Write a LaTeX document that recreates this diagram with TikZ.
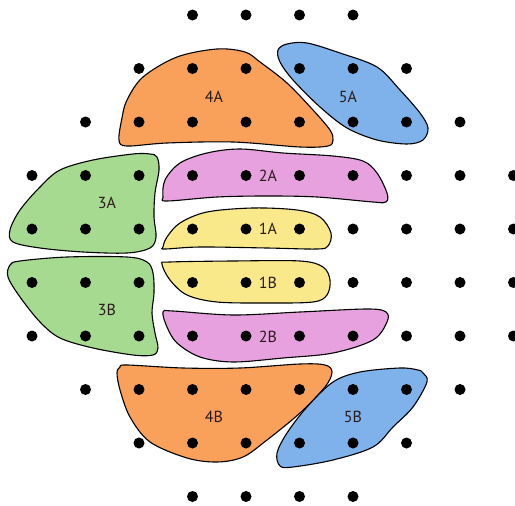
\documentclass[tikz,border=0pt]{standalone}
\usepackage{fontspec}
\setmainfont{PT Sans}
\definecolor{orangeA}{HTML}{F9A05A}
\definecolor{blueA}{HTML}{7FB2EA}
\definecolor{greenA}{HTML}{A6DA90}
\definecolor{pinkA}{HTML}{E7A1DE}
\definecolor{yellowA}{HTML}{F9E98A}
\definecolor{labtext}{HTML}{2A1A1A}
\begin{document}
\begin{tikzpicture}[x=1pt,y=-1pt,
  blob/.style={draw=black,line width=1.1pt,line join=round},
  lab/.style={font=\fontsize{16}{18}\selectfont,text=labtext,inner sep=0pt},
  gdot/.style={circle,fill=black,inner sep=0pt,minimum size=11pt}]
\useasboundingbox (0,0) rectangle (515,506);
\clip (0,0) rectangle (515,506);
\fill[white] (0,0) rectangle (515,506);
% 4A
\draw[blob,fill=orangeA] plot[smooth cycle,tension=0.55] coordinates {
 (119,140) (122,118) (127,100) (143,77) (177,57) (217,49) (245,52) (260,62)
 (287,83) (313,110) (330,130) (333,140) (328,146) (300,147) (233,142) (167,143) (127,146)};
% 5A
\draw[blob,fill=blueA] plot[smooth cycle,tension=0.55] coordinates {
 (278,50) (287,44) (307,43) (340,53) (377,67) (400,90) (420,113) (428,128)
 (423,140) (407,144) (377,140) (347,128) (320,107) (293,80) (280,62)};
% 3A
\draw[blob,fill=greenA] plot[smooth cycle,tension=0.55] coordinates {
 (157,157) (159,170) (155,193) (154,217) (156,237) (150,248) (127,253) (83,252)
 (40,248) (13,242) (10,230) (20,210) (40,187) (60,170) (93,160) (133,154) (150,154)};
% 3B
\draw[blob,fill=greenA] plot[smooth cycle,tension=0.55] coordinates {
 (10,265) (20,261) (67,257) (127,257) (147,262) (153,273) (154,293) (152,313)
 (155,333) (158,348) (153,355) (133,355) (93,348) (60,338) (40,322) (20,297) (8,277)};
% 2A
\draw[blob,fill=pinkA] plot[smooth cycle,tension=0.55] coordinates {
 (163,197) (165,180) (180,163) (207,153) (240,149) (283,153) (333,156) (363,161)
 (377,173) (387,193) (386,202) (373,202) (317,197) (267,196) (217,197) (167,201)};
% 1A
\draw[blob,fill=yellowA] plot[smooth cycle,tension=0.55] coordinates {
 (163,247) (167,237) (180,223) (207,212) (253,208) (297,210) (320,217) (331,233)
 (328,246) (317,249) (267,248) (200,247) (165,249)};
% 1B
\draw[blob,fill=yellowA] plot[smooth cycle,tension=0.55] coordinates {
 (162,264) (170,262) (233,261) (300,261) (323,267) (330,280) (327,295) (313,302)
 (267,303) (217,302) (187,295) (170,280)};
% 2B
\draw[blob,fill=pinkA] plot[smooth cycle,tension=0.55] coordinates {
 (163,312) (173,311) (233,315) (300,312) (367,309) (386,312) (387,322) (373,340)
 (333,353) (283,358) (233,362) (200,357) (177,343) (167,327)};
% 4B
\draw[blob,fill=orangeA] plot[smooth cycle,tension=0.55] coordinates {
 (120,367) (127,365) (183,368) (240,368) (300,364) (325,365) (332,372) (325,387)
 (300,413) (267,440) (243,457) (217,462) (187,458) (150,442) (130,417) (120,390) (117,373)};
% 5B
\draw[blob,fill=blueA] plot[smooth cycle,tension=0.55] coordinates {
 (423,373) (427,382) (413,407) (393,427) (373,447) (333,460) (293,467) (280,466)
 (277,453) (287,433) (307,407) (333,382) (360,372) (400,368) (418,370)};
% dots
\foreach \j/\a/\b in {0/3/6,1/2/7,2/1/8,3/0/9,4/0/9,5/0/9,6/0/9,7/1/8,8/2/7,9/3/6}{
  \foreach \i in {\a,...,\b}{
    \node[gdot] (d\i-\j) at ({32+53.5*\i},{15+53.5*\j}) {};
  }
}
% labels
\node[lab] (l4A) at (214,97) {4A};
\node[lab] (l5A) at (348,97) {5A};
\node[lab] (l3A) at (107,203) {3A};
\node[lab] (l2A) at (268,176) {2A};
\node[lab] (l1A) at (268,229) {1A};
\node[lab] (l1B) at (268,283) {1B};
\node[lab] (l3B) at (107,310) {3B};
\node[lab] (l2B) at (268,337) {2B};
\node[lab] (l4B) at (214,417) {4B};
\node[lab] (l5B) at (353,417) {5B};
\end{tikzpicture}
\end{document}
